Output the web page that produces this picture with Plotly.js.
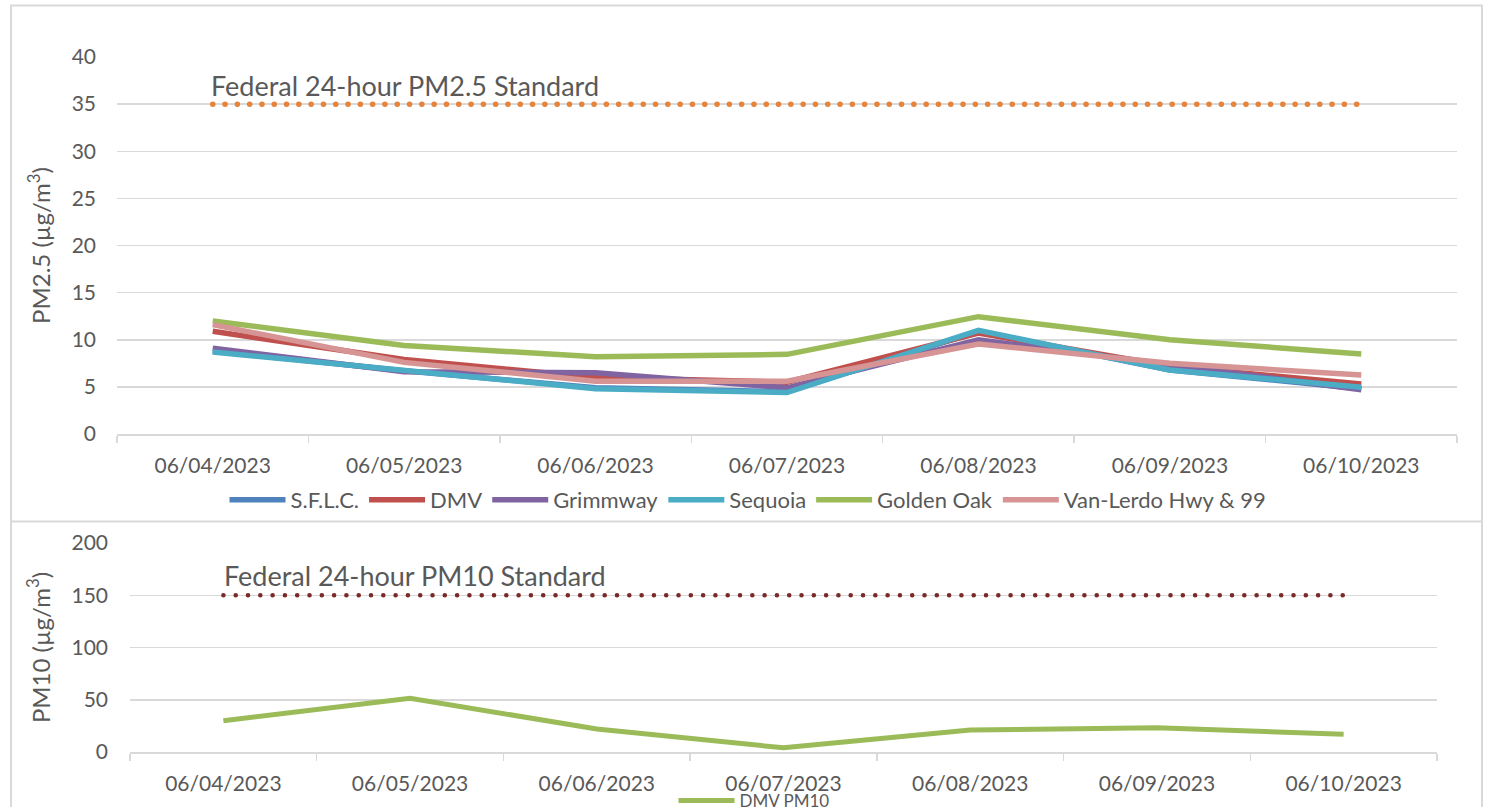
<!DOCTYPE html>
<html>
<head>
<meta charset="utf-8">
<script src="https://cdn.plot.ly/plotly-3.0.1.min.js"></script>
<style>html,body{margin:0;padding:0;background:#fff;}#chart{width:1488px;height:807px;}</style>
</head>
<body>
<div id="chart"></div>
<script>
const dates = ["06/04/2023","06/05/2023","06/06/2023","06/07/2023","06/08/2023","06/09/2023","06/10/2023"];

const sflc      = [8.8, 6.7, 4.9, 4.5, 10.9, 6.8, 4.8];
const dmv       = [10.9, 7.9, 6.0, 5.5, 10.7, 7.2, 5.3];
const grimmway  = [9.1, 6.6, 6.5, 4.9, 10.0, 7.3, 4.7];
const sequoia   = [8.7, 6.7, 4.8, 4.4, 11.0, 6.8, 4.95];
const goldenOak = [12.0, 9.4, 8.2, 8.45, 12.45, 10.0, 8.5];
const vanLerdo  = [11.6, 7.6, 5.6, 5.6, 9.55, 7.5, 6.25];
const pm25Standard = [35, 35, 35, 35, 35, 35, 35];

const dmvPM10 = [30, 51.5, 22, 4, 21, 23.3, 17];
const pm10Standard = [150, 150, 150, 150, 150, 150, 150];

const pm25Names = ["S.F.L.C.", "DMV", "Grimmway", "Sequoia", "Golden Oak", "Van-Lerdo Hwy & 99"];
const pm25Series = [sflc, dmv, grimmway, sequoia, goldenOak, vanLerdo];
const pm25Colors = ["#4F81BD", "#C0504D", "#8064A2", "#4BACC6", "#9BBB59", "#D69594"];

const FONT = "Lato, 'Open Sans', sans-serif";
const TXT = "#595959";
const GRID = "#d9d9d9";
const W = 1488, H = 807;

const traces = [];
traces.push({
  x: dates, y: pm25Standard, type: "scatter", mode: "lines", xaxis: "x", yaxis: "y",
  line: {color: "#E5843A", width: 5.5, dash: "0.1px,12.2px"}, showlegend: false, hoverinfo: "skip"
});
pm25Series.forEach((s, i) => {
  traces.push({
    x: dates, y: s, name: pm25Names[i], type: "scatter", mode: "lines", xaxis: "x", yaxis: "y",
    line: {color: pm25Colors[i], width: 5.5}, legend: "legend"
  });
});
traces.push({
  x: dates, y: pm10Standard, type: "scatter", mode: "lines", xaxis: "x2", yaxis: "y2",
  line: {color: "#7B2A2A", width: 4.5, dash: "0.1px,12.2px"}, showlegend: false, hoverinfo: "skip"
});
traces.push({
  x: dates, y: dmvPM10, name: "DMV PM10", type: "scatter", mode: "lines", xaxis: "x2", yaxis: "y2",
  line: {color: "#9BBB59", width: 5}, legend: "legend2"
});

function px(xp) { return xp / W; }
function py(yp) { return (H - yp) / H; }

const xCommon = {
  type: "category", range: [-0.5, 6.5], tickson: "boundaries", ticks: "outside", ticklen: 7,
  tickcolor: GRID, tickwidth: 1.5, showline: true, linecolor: GRID, linewidth: 1.5,
  showgrid: false, zeroline: false, tickfont: {family: FONT, size: 21, color: TXT},
  ticklabelstandoff: 12, fixedrange: true
};
const yCommon = {
  showgrid: true, gridcolor: GRID, gridwidth: 1.5, zeroline: false, showline: false,
  tickfont: {family: FONT, size: 21, color: TXT}, ticks: "", fixedrange: true
};

const layout = {
  width: W, height: H,
  margin: {l: 0, r: 0, t: 0, b: 0, autoexpand: false},
  paper_bgcolor: "#fff", plot_bgcolor: "#fff",
  font: {family: FONT, color: TXT},
  xaxis: Object.assign({}, xCommon, {domain: [px(117), px(1457)], anchor: "y"}),
  yaxis: Object.assign({}, yCommon, {
    domain: [py(434), py(57)], anchor: "x", range: [0, 40], dtick: 5, ticklabelstandoff: 20,
    title: {text: "PM2.5 (µg/m<sup>3</sup>)", font: {family: FONT, size: 24, color: TXT}, standoff: 14}
  }),
  xaxis2: Object.assign({}, xCommon, {domain: [px(130), px(1437)], anchor: "y2"}),
  yaxis2: Object.assign({}, yCommon, {
    domain: [py(752), py(543)], anchor: "x2", range: [0, 200], dtick: 50, ticklabelstandoff: 21,
    title: {text: "PM10 (µg/m<sup>3</sup>)", font: {family: FONT, size: 24, color: TXT}, standoff: 14}
  }),
  legend: {
    orientation: "h", x: px(748), y: py(500), xanchor: "center", yanchor: "middle",
    font: {family: FONT, size: 22, color: TXT}, itemwidth: 56, bgcolor: "rgba(0,0,0,0)"
  },
  legend2: {
    orientation: "h", x: px(754), y: py(801), xanchor: "center", yanchor: "middle",
    font: {family: FONT, size: 17, color: TXT}, itemwidth: 56, bgcolor: "rgba(0,0,0,0)"
  },
  annotations: [
    {xref: "x", yref: "y", x: 0, y: 37, text: "Federal 24-hour PM2.5 Standard", showarrow: false,
     xanchor: "left", yanchor: "middle", xshift: -4, font: {family: FONT, size: 27, color: TXT}},
    {xref: "x2", yref: "y2", x: 0, y: 169, text: "Federal 24-hour PM10 Standard", showarrow: false,
     xanchor: "left", yanchor: "middle", xshift: -1, font: {family: FONT, size: 27, color: TXT}}
  ],
  shapes: [
    {type: "rect", xref: "paper", yref: "paper", x0: px(11), x1: px(1482), y0: py(830), y1: py(5.5),
     line: {color: GRID, width: 2}, fillcolor: "rgba(0,0,0,0)", layer: "below"},
    {type: "line", xref: "paper", yref: "paper", x0: px(11), x1: px(1482), y0: py(521.5), y1: py(521.5),
     line: {color: GRID, width: 2}, layer: "below"}
  ],
  showlegend: true, hovermode: false
};

Plotly.newPlot("chart", traces, layout, {displayModeBar: false, staticPlot: true}).then(gd => {
  // round dots for the dotted standard lines
  gd.querySelectorAll(".scatterlayer .trace path.js-line").forEach(p => {
    const da = p.style.strokeDasharray || p.getAttribute("stroke-dasharray") || "";
    if (da && da.indexOf("0.1") === 0) p.style.strokeLinecap = "round";
  });
});
</script>
</body>
</html>
